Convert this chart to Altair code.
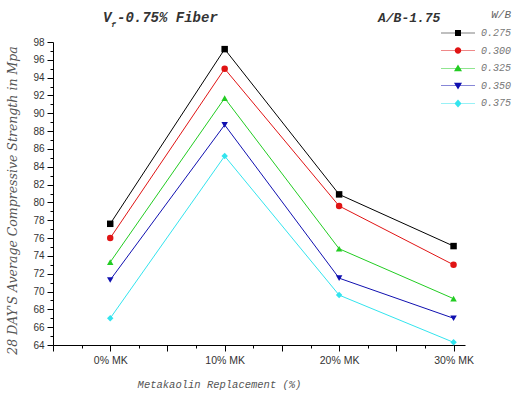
import altair as alt
import pandas as pd

# ---- data ----
categories = ["0% MK", "10% MK", "20% MK", "30% MK"]
series = ["0.275", "0.300", "0.325", "0.350", "0.375"]
v_0275 = [77.6, 97.2, 80.9, 75.1]
v_0300 = [76.0, 95.0, 79.6, 73.0]
v_0325 = [73.3, 91.7, 74.8, 69.2]
v_0350 = [71.3, 88.7, 71.5, 67.0]
v_0375 = [67.0, 85.2, 69.6, 64.3]
values = [v_0275, v_0300, v_0325, v_0350, v_0375]

header_left = ["V", "f", "-0.75% Fiber"]
header_right = "A/B-1.75"
x_title = "Metakaolin Replacement (%)"
y_title = "28 DAY'S Average Compressive Strength in Mpa"
legend_title = "W/B"

# ---- styles ----
colors = ["#000000", "#e01414", "#22cc22", "#1010b0", "#33e4ee"]
shapes = ["square", "circle", "triangle-up", "triangle-down", "diamond"]
line_seg = "M-3.4,-0.05H3.4V0.05H-3.4Z"
legend_paths = [
    line_seg + "M-0.6,-0.6H0.6V0.6H-0.6Z",
    line_seg + "M-0.65,0A0.65,0.65 0 1,1 0.65,0A0.65,0.65 0 1,1 -0.65,0Z",
    line_seg + "M0,-0.75L0.8,0.6H-0.8Z",
    line_seg + "M0,0.75L-0.8,-0.6H0.8Z",
    line_seg + "M0,-0.8L0.7,0L0,0.8L-0.7,0Z",
]

rows = []
for s, vals in zip(series, values):
    for i, (c, v) in enumerate(zip(categories, vals)):
        rows.append({"series": s, "pos": i + 1, "cat": c, "value": v})
df = pd.DataFrame(rows)

label_expr = " : ".join(
    [f"datum.value == {i + 1} ? '{c}'" for i, c in enumerate(categories)]
) + " : ''"

x_enc = alt.X(
    "pos:Q",
    scale=alt.Scale(domain=[0.5, 4.1], nice=False, zero=False),
    axis=alt.Axis(
        title=x_title,
        values=[0.5 + 0.25 * k for k in range(15)],
        labelExpr=label_expr,
        labelOverlap=False,
        tickSize={"condition": {"test": "datum.value % 0.5 == 0", "value": 6}, "value": 3},
        grid=False,
        domainColor="#000000",
        tickColor="#000000",
        labelColor="#333333",
        labelFont="Liberation Sans",
        labelFontSize=10.5,
        labelPadding=4,
        titleFont="Liberation Mono",
        titleFontStyle="italic",
        titleFontWeight="normal",
        titleFontSize=10.5,
        titleColor="#555555",
        titleX=166,
        titleY=39,
        titleAlign="center",
        titleBaseline="middle",
    ),
)
y_enc = alt.Y(
    "value:Q",
    scale=alt.Scale(domain=[64, 98], nice=False, zero=False),
    axis=alt.Axis(
        title=y_title,
        values=list(range(64, 99)),
        labelExpr="datum.value % 2 == 0 ? datum.label : ''",
        labelOverlap=False,
        tickSize={"condition": {"test": "datum.value % 2 == 0", "value": 6}, "value": 3},
        grid=False,
        domainColor="#000000",
        tickColor="#000000",
        labelColor="#333333",
        labelFont="Liberation Sans",
        labelFontSize=10,
        labelPadding=3,
        titleFont="DejaVu Serif",
        titleFontStyle="italic",
        titleFontWeight="normal",
        titleFontSize=12.5,
        titleColor="#555555",
        titleAngle=-90,
        titleX=-41,
        titleY=158,
        titleAlign="center",
        titleBaseline="middle",
    ),
)
color_scale = alt.Scale(domain=series, range=colors)

base = alt.Chart(df)

legend_layer = base.transform_filter("false").mark_point(filled=True, opacity=1).encode(
    x=x_enc, y=y_enc,
    color=alt.Color("series:N", scale=color_scale, legend=alt.Legend(title=legend_title)),
    shape=alt.Shape("series:N", scale=alt.Scale(domain=series, range=legend_paths),
                    legend=alt.Legend(title=legend_title)),
)

lines = base.mark_line(strokeWidth=1).encode(
    x=x_enc, y=y_enc,
    color=alt.Color("series:N", scale=color_scale, legend=None),
    detail="series:N",
)

point_layers = []
for s, shp in zip(series, shapes):
    point_layers.append(
        base.transform_filter(alt.datum.series == s)
        .mark_point(filled=True, opacity=1, size=42, shape=shp)
        .encode(
            x=x_enc, y=y_enc,
            color=alt.Color("series:N", scale=color_scale, legend=None),
        )
    )

hdr = pd.DataFrame({"t": header_left + [header_right]})
hdr_style = dict(font="Liberation Mono", fontStyle="italic", fontWeight="bold",
                 color="#333333", align="left", baseline="middle")
t_v = alt.Chart(hdr).transform_filter(alt.datum.t == header_left[0]).mark_text(fontSize=14, **hdr_style).encode(
    text="t:N", x=alt.value(50), y=alt.value(-24))
t_f = alt.Chart(hdr).transform_filter(alt.datum.t == header_left[1]).mark_text(fontSize=8, **hdr_style).encode(
    text="t:N", x=alt.value(58), y=alt.value(-17))
t_rest = alt.Chart(hdr).transform_filter(alt.datum.t == header_left[2]).mark_text(fontSize=14, **hdr_style).encode(
    text="t:N", x=alt.value(64), y=alt.value(-24))
t_right = alt.Chart(hdr).transform_filter(alt.datum.t == header_right).mark_text(fontSize=13, **hdr_style).encode(
    text="t:N", x=alt.value(325), y=alt.value(-24))

chart = alt.layer(legend_layer, lines, *point_layers, t_v, t_f, t_rest, t_right).properties(
    width=412, height=303,
    autosize=alt.AutoSizeParams(type="none"),
    padding={"left": 53, "top": 42, "right": 57, "bottom": 52},
    background="white",
).configure_view(stroke=None).configure_legend(
    orient="none",
    legendX=400,
    legendY=-33,
    padding=0,
    symbolSize=100,
    symbolStrokeWidth=0,
    labelOffset=18,
    rowPadding=7.6,
    titleAnchor="end",
    titleFont="Liberation Mono",
    titleFontStyle="italic",
    titleFontWeight="normal",
    titleFontSize=11,
    titleColor="#666666",
    titlePadding=8,
    labelFont="Liberation Mono",
    labelFontStyle="italic",
    labelFontSize=10,
    labelColor="#777777",
)

chart.save("out.html", embed_options={"renderer": "svg", "actions": False})
